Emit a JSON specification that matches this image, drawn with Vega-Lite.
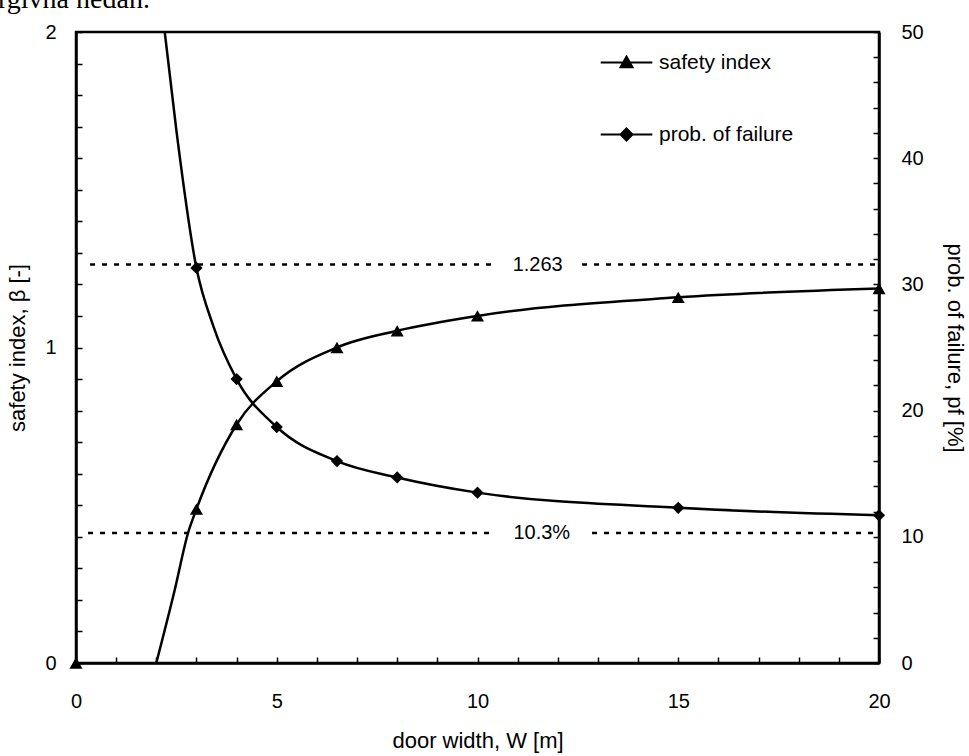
{
  "$schema": "https://vega.github.io/schema/vega-lite/v6.json",
  "width": 803,
  "height": 631,
  "autosize": {"type": "none"},
  "padding": {"left": 76, "top": 32, "right": 90, "bottom": 93},
  "background": "white",
  "title": {"text": "rgivna nedan.", "anchor": "start", "frame": "group", "font": "Liberation Serif", "fontSize": 28, "fontWeight": "normal", "color": "black", "baseline": "alphabetic", "offset": 0, "dx": -78, "dy": 14},
  "config": {
    "view": {"stroke": "black", "strokeWidth": 2.5},
    "font": "Liberation Sans",
    "axis": {"domainColor": "black", "domainWidth": 2.5, "tickColor": "black", "tickWidth": 1.5, "tickSize": -6, "labelFont": "Liberation Sans", "labelFontSize": 20, "labelColor": "black", "titleFont": "Liberation Sans", "titleFontSize": 22, "titleFontWeight": "normal", "titleColor": "black", "grid": false, "labelOverlap": false, "labelFlush": false}
  },
  "datasets": {
    "curves": [
      {"series": "safety index", "W": 2.0, "value": 0},
      {"series": "safety index", "W": 2.46, "value": 0.232},
      {"series": "safety index", "W": 2.79, "value": 0.412},
      {"series": "safety index", "W": 3, "value": 0.488},
      {"series": "safety index", "W": 4, "value": 0.756},
      {"series": "safety index", "W": 5, "value": 0.893},
      {"series": "safety index", "W": 6.5, "value": 1.0},
      {"series": "safety index", "W": 8, "value": 1.053},
      {"series": "safety index", "W": 10, "value": 1.1},
      {"series": "safety index", "W": 15, "value": 1.159},
      {"series": "safety index", "W": 20, "value": 1.187},
      {"series": "prob. of failure", "W": 2.21, "value": 50},
      {"series": "prob. of failure", "W": 2.5, "value": 42.2},
      {"series": "prob. of failure", "W": 3, "value": 31.3},
      {"series": "prob. of failure", "W": 3.42, "value": 26.7},
      {"series": "prob. of failure", "W": 4, "value": 22.5},
      {"series": "prob. of failure", "W": 5, "value": 18.7},
      {"series": "prob. of failure", "W": 6.5, "value": 16.0},
      {"series": "prob. of failure", "W": 8, "value": 14.7},
      {"series": "prob. of failure", "W": 10, "value": 13.5},
      {"series": "prob. of failure", "W": 15, "value": 12.3},
      {"series": "prob. of failure", "W": 20, "value": 11.7}
    ],
    "markers": [
      {"series": "safety index", "W": 0, "value": 0},
      {"series": "safety index", "W": 3, "value": 0.488},
      {"series": "safety index", "W": 4, "value": 0.756},
      {"series": "safety index", "W": 5, "value": 0.893},
      {"series": "safety index", "W": 6.5, "value": 1.0},
      {"series": "safety index", "W": 8, "value": 1.053},
      {"series": "safety index", "W": 10, "value": 1.1},
      {"series": "safety index", "W": 15, "value": 1.159},
      {"series": "safety index", "W": 20, "value": 1.187},
      {"series": "prob. of failure", "W": 3, "value": 31.3},
      {"series": "prob. of failure", "W": 4, "value": 22.5},
      {"series": "prob. of failure", "W": 5, "value": 18.7},
      {"series": "prob. of failure", "W": 6.5, "value": 16.0},
      {"series": "prob. of failure", "W": 8, "value": 14.7},
      {"series": "prob. of failure", "W": 10, "value": 13.5},
      {"series": "prob. of failure", "W": 15, "value": 12.3},
      {"series": "prob. of failure", "W": 20, "value": 11.7}
    ],
    "refs": [
      {"scale": "beta", "label": "1.263", "value": 1.263, "W0": 0.35, "W1": 20, "W": 11.5},
      {"scale": "pf", "label": "10.3%", "value": 10.3, "W0": 0.3, "W1": 20, "W": 11.6}
    ]
  },
  "encoding": {
    "x": {"field": "W", "type": "quantitative", "scale": {"domain": [0, 20], "nice": false},
      "axis": {"title": "door width, W [m]", "values": [0, 1, 2, 3, 4, 5, 6, 7, 8, 9, 10, 11, 12, 13, 14, 15, 16, 17, 18, 19, 20], "labelExpr": "datum.value % 5 === 0 ? datum.label : ''", "labelPadding": 34, "titlePadding": 19}}
  },
  "layer": [
    {
      "encoding": {
        "y": {"field": "value", "type": "quantitative", "scale": {"domain": [0, 2], "nice": false, "zero": true},
          "axis": {"orient": "left", "title": "safety index, β [-]", "format": ".0f", "values": [0, 0.1, 0.2, 0.3, 0.4, 0.5, 0.6, 0.7, 0.8, 0.9, 1, 1.1, 1.2, 1.3, 1.4, 1.5, 1.6, 1.7, 1.8, 1.9, 2], "labelExpr": "datum.value % 1 === 0 ? datum.label : ''", "labelPadding": 26, "titlePadding": 15}}
      },
      "layer": [
        {
          "data": {"name": "curves"},
          "transform": [{"filter": "datum.series === 'safety index'"}],
          "mark": {"type": "line", "interpolate": "monotone", "strokeWidth": 2.5, "clip": true},
          "encoding": {
            "color": {"field": "series", "type": "nominal", "scale": {"domain": ["safety index", "prob. of failure"], "range": ["black", "black"]},
              "legend": {"orient": "none", "legendX": 540, "legendY": 20, "title": null, "labelFont": "Liberation Sans", "labelFontSize": 21, "labelColor": "black", "symbolSize": 144, "symbolStrokeWidth": 2, "symbolStrokeColor": "black", "symbolFillColor": "black", "labelOffset": 22, "rowPadding": 50,
                "encode": {"symbols": {"update": {"shape": {"signal": "datum.value === 'safety index' ? 'M-4.3,0H4.3M0,-1L1,0.8L-1,0.8Z' : 'M-4.3,0H4.3M0,-1L1,0L0,1L-1,0Z'"}, "fill": {"value": "black"}, "stroke": {"value": "black"}, "strokeWidth": {"value": 2}, "opacity": {"value": 1}}}}}}
          }
        },
        {
          "data": {"name": "markers"},
          "transform": [{"filter": "datum.series === 'safety index'"}],
          "mark": {"type": "point", "shape": "triangle-up", "filled": true, "color": "black", "size": 170, "opacity": 1}
        },
        {
          "data": {"name": "refs"},
          "transform": [{"filter": "datum.scale === 'beta'"}],
          "mark": {"type": "rule", "strokeDash": [5, 7], "strokeWidth": 2.5, "color": "black"},
          "encoding": {"x": {"field": "W0", "type": "quantitative", "scale": {"domain": [0, 20], "nice": false},
            "axis": {"title": "door width, W [m]", "values": [0, 1, 2, 3, 4, 5, 6, 7, 8, 9, 10, 11, 12, 13, 14, 15, 16, 17, 18, 19, 20], "labelExpr": "datum.value % 5 === 0 ? datum.label : ''", "labelPadding": 34, "titlePadding": 19}}, "x2": {"field": "W1"}}
        },
        {
          "data": {"name": "refs"},
          "transform": [{"filter": "datum.scale === 'beta'"}],
          "mark": {"type": "text", "fontSize": 20, "font": "Liberation Sans", "color": "white", "stroke": "white", "strokeWidth": 40, "strokeJoin": "round"},
          "encoding": {"text": {"field": "label"}}
        },
        {
          "data": {"name": "refs"},
          "transform": [{"filter": "datum.scale === 'beta'"}],
          "mark": {"type": "text", "fontSize": 20, "font": "Liberation Sans", "color": "black"},
          "encoding": {"text": {"field": "label"}}
        }
      ]
    },
    {
      "encoding": {
        "y": {"field": "value", "type": "quantitative", "scale": {"domain": [0, 50], "nice": false, "zero": true},
          "axis": {"orient": "right", "title": "prob. of failure, pf [%]", "values": [0, 2, 4, 6, 8, 10, 12, 14, 16, 18, 20, 22, 24, 26, 28, 30, 32, 34, 36, 38, 40, 42, 44, 46, 48, 50], "labelExpr": "datum.value % 10 === 0 ? datum.label : ''", "labelPadding": 28, "titlePadding": 19}}
      },
      "layer": [
        {
          "data": {"name": "curves"},
          "transform": [{"filter": "datum.series === 'prob. of failure'"}],
          "mark": {"type": "line", "interpolate": "monotone", "strokeWidth": 2.5, "clip": true},
          "encoding": {
            "color": {"field": "series", "type": "nominal", "scale": {"domain": ["safety index", "prob. of failure"], "range": ["black", "black"]}}
          }
        },
        {
          "data": {"name": "markers"},
          "transform": [{"filter": "datum.series === 'prob. of failure'"}],
          "mark": {"type": "point", "shape": "diamond", "filled": true, "color": "black", "size": 150, "opacity": 1}
        },
        {
          "data": {"name": "refs"},
          "transform": [{"filter": "datum.scale === 'pf'"}],
          "mark": {"type": "rule", "strokeDash": [5, 7], "strokeWidth": 2.5, "color": "black"},
          "encoding": {"x": {"field": "W0", "type": "quantitative", "scale": {"domain": [0, 20], "nice": false},
            "axis": {"title": "door width, W [m]", "values": [0, 1, 2, 3, 4, 5, 6, 7, 8, 9, 10, 11, 12, 13, 14, 15, 16, 17, 18, 19, 20], "labelExpr": "datum.value % 5 === 0 ? datum.label : ''", "labelPadding": 34, "titlePadding": 19}}, "x2": {"field": "W1"}}
        },
        {
          "data": {"name": "refs"},
          "transform": [{"filter": "datum.scale === 'pf'"}],
          "mark": {"type": "text", "fontSize": 20, "font": "Liberation Sans", "color": "white", "stroke": "white", "strokeWidth": 40, "strokeJoin": "round"},
          "encoding": {"text": {"field": "label"}}
        },
        {
          "data": {"name": "refs"},
          "transform": [{"filter": "datum.scale === 'pf'"}],
          "mark": {"type": "text", "fontSize": 20, "font": "Liberation Sans", "color": "black"},
          "encoding": {"text": {"field": "label"}}
        }
      ]
    }
  ],
  "resolve": {"scale": {"y": "independent"}}
}
